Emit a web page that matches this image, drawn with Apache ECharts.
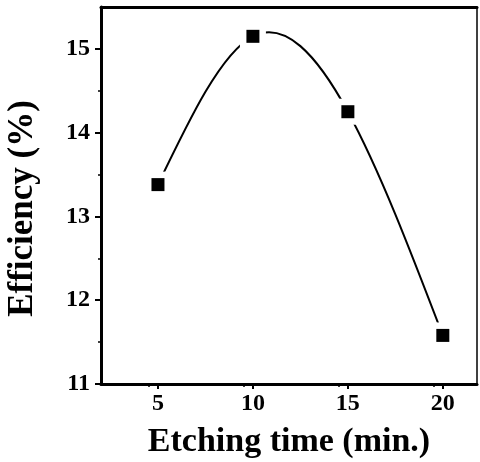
<!DOCTYPE html>
<html><head><meta charset="utf-8">
<script src="https://cdn.jsdelivr.net/npm/echarts@6/dist/echarts.min.js"></script>
<style>html,body{margin:0;padding:0;background:#fff}#c{width:480px;height:462px}</style>
</head><body><div id="c"></div>
<script>
const etchingTime = [5, 10, 15, 20];
const efficiency = [13.38, 15.15, 14.25, 11.58];
const xTicks = [5, 10, 15, 20];
const yTicks = [11, 12, 13, 14, 15];

// Natural cubic spline slopes at the data points (drawn as Bezier segments through the axes' scales)
function splineSlopes(xs, ys) {
  const n = xs.length;
  const h = [], a = [], b = [], c = [], d = [];
  for (let i = 0; i < n - 1; i++) h.push(xs[i + 1] - xs[i]);
  const M = new Array(n).fill(0);
  const m = n - 2;
  for (let i = 1; i < n - 1; i++) {
    a.push(h[i - 1]); b.push(2 * (h[i - 1] + h[i])); c.push(h[i]);
    d.push(6 * ((ys[i + 1] - ys[i]) / h[i] - (ys[i] - ys[i - 1]) / h[i - 1]));
  }
  for (let i = 1; i < m; i++) {
    const w = a[i] / b[i - 1];
    b[i] -= w * c[i - 1]; d[i] -= w * d[i - 1];
  }
  const sol = new Array(m);
  for (let i = m - 1; i >= 0; i--) sol[i] = (d[i] - (i < m - 1 ? c[i] * sol[i + 1] : 0)) / b[i];
  for (let i = 0; i < m; i++) M[i + 1] = sol[i];
  const s = [];
  for (let i = 0; i < n; i++) {
    if (i < n - 1) s.push((ys[i + 1] - ys[i]) / h[i] - h[i] * (2 * M[i] + M[i + 1]) / 6);
    else s.push((ys[i] - ys[i - 1]) / h[i - 1] + h[i - 1] * (M[i - 1] + 2 * M[i]) / 6);
  }
  return s;
}
const slopes = splineSlopes(etchingTime, efficiency);

const font = '"Liberation Serif", "Times New Roman", serif';
const chart = echarts.init(document.getElementById('c'));
const points = etchingTime.map((t, i) => [t, efficiency[i]]);
chart.setOption({
  animation: false,
  grid: {left: 101, top: 7, right: 3, bottom: 78, containLabel: false, outerBoundsMode: 'none'},
  xAxis: [{
    type: 'value', min: 2, max: 21.8, interval: 5,
    name: 'Etching time (min.)', nameLocation: 'middle', nameGap: 41,
    nameTextStyle: {fontFamily: font, fontWeight: 'bold', fontSize: 34, color: '#000'},
    axisLine: {lineStyle: {color: '#000', width: 3}},
    axisTick: {show: true, length: 5, lineStyle: {color: '#000', width: 2},
      customValues: xTicks},
    minorTick: {show: true, splitNumber: 2, length: 3, lineStyle: {color: '#000', width: 1.5}},
    axisLabel: {fontFamily: font, fontWeight: 'bold', fontSize: 24, color: '#000', margin: 8,
      customValues: xTicks},
    splitLine: {show: false}
  }, {
    type: 'value', min: 2, max: 21.8, position: 'top',
    axisLine: {show: true, lineStyle: {color: '#000', width: 3}},
    axisTick: {show: false}, axisLabel: {show: false}, splitLine: {show: false}
  }],
  yAxis: [{
    type: 'value', min: 11, max: 15.5, interval: 1,
    name: 'Efficiency (%)', nameLocation: 'middle', nameGap: 61,
    nameTextStyle: {fontFamily: font, fontWeight: 'bold', fontSize: 35, color: '#000', padding: [0, 26, 0, 0]},
    axisLine: {show: true, lineStyle: {color: '#000', width: 3}},
    axisTick: {show: true, length: 6, lineStyle: {color: '#000', width: 2},
      customValues: yTicks},
    minorTick: {show: true, splitNumber: 2, length: 3, lineStyle: {color: '#000', width: 1.5}},
    axisLabel: {fontFamily: font, fontWeight: 'bold', fontSize: 24, color: '#000', margin: 11,
      customValues: yTicks},
    splitLine: {show: false}
  }, {
    type: 'value', min: 11, max: 15.5, position: 'right',
    axisLine: {show: true, lineStyle: {color: '#000', width: 1.5}},
    axisTick: {show: false}, axisLabel: {show: false}, splitLine: {show: false}
  }],
  series: [{
    type: 'custom',
    data: [0],
    clip: true,
    z: 2,
    renderItem: function (params, api) {
      let path = '';
      for (let i = 0; i < points.length - 1; i++) {
        const x0 = points[i][0], y0 = points[i][1];
        const x1 = points[i + 1][0], y1 = points[i + 1][1];
        const h = x1 - x0;
        const p0 = api.coord([x0, y0]);
        const c1 = api.coord([x0 + h / 3, y0 + slopes[i] * h / 3]);
        const c2 = api.coord([x1 - h / 3, y1 - slopes[i + 1] * h / 3]);
        const p3 = api.coord([x1, y1]);
        if (i === 0) path += 'M' + p0[0] + ' ' + p0[1];
        path += ' C' + c1[0] + ' ' + c1[1] + ' ' + c2[0] + ' ' + c2[1] + ' ' + p3[0] + ' ' + p3[1];
      }
      return {
        type: 'path',
        shape: {pathData: path},
        style: {fill: null, stroke: '#000', lineWidth: 2}
      };
    }
  }, {
    type: 'scatter', data: points, symbol: 'rect', symbolSize: 26,
    itemStyle: {color: '#fff', opacity: 1}, z: 3, silent: true
  }, {
    type: 'scatter', data: points, symbol: 'rect', symbolSize: 13,
    itemStyle: {color: '#000', opacity: 1}, z: 4
  }]
});
</script></body></html>
